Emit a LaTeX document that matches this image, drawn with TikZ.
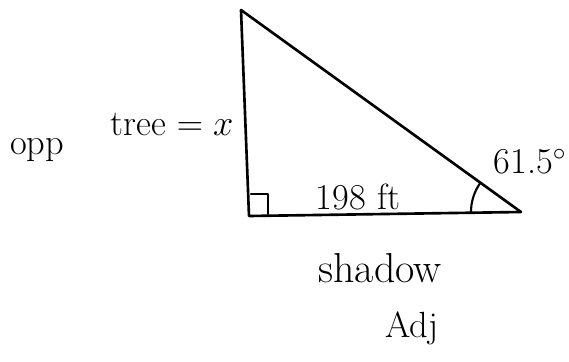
\documentclass[tikz,border=0pt]{standalone}
\usepackage{amsmath}
\usepackage{tikz}
\tikzset{lbl/.style={font=\huge, inner sep=0pt}}
\tikzset{side/.style={line width=1.5pt, line cap=round, line join=round}}

\begin{document}
\begin{tikzpicture}[x=0.02cm, y=-0.02cm]
\useasboundingbox (0,0) rectangle (569,362);

\coordinate (top) at (241,10);
\coordinate (corner) at (249,216);
\coordinate (foot) at (521,212);

\draw[side] (top) -- (corner) -- (foot) -- cycle;

% right angle mark
\draw[side, line width=1.2pt] (251,194) -- (268,194) -- (268,214);

% angle arc
\draw[side, line width=1.2pt] (foot) ++(180:50) arc (180:216:50);

\node[lbl] (opp) at (37,150) {opp};
\node[lbl] (tree) at (172,124) {tree $=x$};
\node[lbl] (base) at (358,197) {198 ft};
\node[lbl] (ang) at (530,162) {61.5$^\circ$};
\node[lbl, scale=1.15] (shadow) at (380,268) {shadow};
\node[lbl] (adj) at (412,328) {Adj};
\end{tikzpicture}
\end{document}
